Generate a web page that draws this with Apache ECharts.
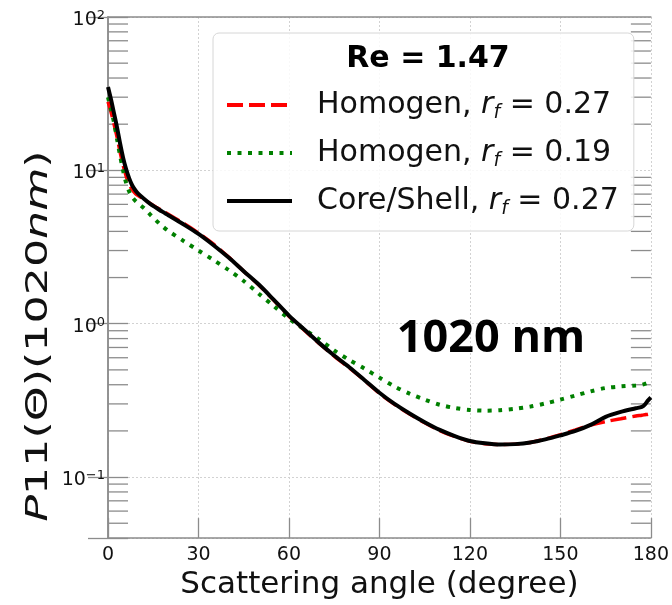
<!DOCTYPE html>
<html><head><meta charset="utf-8">
<script src="https://cdn.jsdelivr.net/npm/echarts@6/dist/echarts.min.js"></script>
<style>html,body{margin:0;padding:0;background:#fff}#c{width:672px;height:605px}</style>
</head><body><div id="c"></div>
<script>
// Scattering angle (degree)
const angles = [0,1,2,3,4,5,6,7,8,9,10,12,14,16,18,20,25,30,35,40,45,50,55,60,65,70,75,80,85,90,95,100,105,110,115,120,125,130,135,140,145,150,155,160,165,170,175,177,178,179,180];
// Homogen, r_f = 0.27 (red dashed)
const homogen027 = [28,24,20,16.5,13.2,10.8,9.2,8.1,7.5,7.1,6.85,6.45,6.08,5.75,5.45,5.17,4.52,3.9,3.3,2.72,2.2,1.79,1.42,1.12,0.91,0.745,0.615,0.515,0.428,0.352,0.298,0.258,0.226,0.201,0.184,0.171,0.165,0.163,0.164,0.168,0.177,0.189,0.203,0.218,0.23,0.24,0.25,0.253,0.255,0.257,0.26];
// Homogen, r_f = 0.19 (green dotted)
const homogen019 = [30,25,20.5,16,12.5,10,8.3,7.3,6.7,6.35,6.1,5.65,5.15,4.7,4.33,4.03,3.47,3.0,2.6,2.24,1.9,1.57,1.3,1.08,0.92,0.79,0.67,0.58,0.51,0.445,0.39,0.35,0.32,0.296,0.282,0.274,0.271,0.273,0.279,0.288,0.302,0.32,0.34,0.362,0.381,0.39,0.396,0.4,0.405,0.412,0.42];
// Core/Shell, r_f = 0.27 (black solid)
const coreShell027 = [35,29,23.5,19,15,12.1,10.2,8.9,8.0,7.45,7.05,6.5,6.04,5.7,5.38,5.1,4.45,3.85,3.25,2.7,2.2,1.8,1.43,1.13,0.92,0.75,0.62,0.52,0.43,0.355,0.3,0.26,0.228,0.203,0.185,0.172,0.166,0.163,0.164,0.168,0.176,0.187,0.2,0.219,0.247,0.266,0.281,0.287,0.297,0.315,0.33];
const seriesNames = ['Homogen, r_f = 0.27', 'Homogen, r_f = 0.19', 'Core/Shell, r_f = 0.27'];
const legendRich = [
  '{h|Homogen, }{i|r}{s|f}{a| = 0.27}',
  '{h|Homogen, }{i|r}{s|f}{a| = 0.19}',
  '{h|Core/Shell, }{i|r}{s|f}{a| = 0.27}'
];
const xTicks = [0, 30, 60, 90, 120, 150, 180];
const yMin = 0.04, yMax = 100;
const minorMultipliers = [2,3,4,5,6,7,8,9];
const legendTitle = 'Re = 1.47';
const panelText = '1020 nm';
const xTitle = 'Scattering angle (degree)';

const FONT = 'DejaVu Sans';
const axisGray = '#8c8c8c';
const chart = echarts.init(document.getElementById('c'), null, {renderer:'canvas'});
function pairs(ys){ return angles.map((a,i)=>[a, ys[i]]); }
function yLabel(v){
  const l = Math.log10(v); const e = Math.round(l);
  if (Math.abs(l - e) > 1e-6) return '';
  return '10{sup|' + (e < 0 ? '\u2212' + (-e) : e) + '}';
}
const yAxisCommon = {
  type:'log', logBase:10, min:yMin, max:yMax,
  axisLine:{show:true, lineStyle:{color:axisGray, width:1.5}},
  axisTick:{show:true, inside:true, length:20, lineStyle:{color:axisGray, width:1.3}}
};
chart.setOption({
  animation:false,
  grid:{left:108, top:17, right:13, bottom:61},
  xAxis:[{
    type:'value', min:xTicks[0], max:xTicks[xTicks.length-1], interval:xTicks[1]-xTicks[0],
    axisLine:{lineStyle:{color:axisGray, width:1.5}},
    axisTick:{inside:true, length:20, lineStyle:{color:axisGray, width:1.3}},
    splitLine:{show:true, lineStyle:{color:'#d2d2d2', type:[2,2], width:1}},
    axisLabel:{fontFamily:FONT, fontSize:19, color:'#111', margin:7},
    name:xTitle, nameLocation:'middle', nameGap:23,
    nameTextStyle:{fontFamily:FONT, fontSize:31, color:'#111', verticalAlign:'top'}
  },{
    type:'value', position:'top', min:0, max:180,
    axisLine:{show:true, lineStyle:{color:axisGray, width:1.5}},
    axisTick:{show:false}, axisLabel:{show:false}, splitLine:{show:false}
  }],
  yAxis:[Object.assign({}, yAxisCommon, {
    position:'left',
    splitLine:{show:true, lineStyle:{color:'#d2d2d2', type:[2,2], width:1}},
    axisLabel:{fontFamily:FONT, fontSize:19, color:'#111', margin:3, lineHeight:22, padding:[6,0,0,0], formatter:yLabel,
      rich:{sup:{fontFamily:FONT, fontSize:13, color:'#111', verticalAlign:'top', lineHeight:11}}}
  }), Object.assign({}, yAxisCommon, {
    position:'right', splitLine:{show:false}, axisLabel:{show:false}
  })],
  legend:{
    left:213, top:33, orient:'vertical', padding:[54,15,12,12], itemGap:12,
    itemWidth:65, itemHeight:14, backgroundColor:'rgba(255,255,255,0.85)',
    borderColor:'#d6d6d6', borderWidth:1, borderRadius:6, selectedMode:false,
    lineStyle:{width:4},
    itemStyle:{color:'rgba(0,0,0,0)', borderWidth:0, opacity:0},
    data:seriesNames,
    formatter:function(name){ return legendRich[seriesNames.indexOf(name)]; },
    textStyle:{fontFamily:FONT, fontSize:30, color:'#111', lineHeight:36,
      rich:{
        h:{fontFamily:FONT, fontSize:30, color:'#111', padding:[0,0,0,20]},
        a:{fontFamily:FONT, fontSize:30, color:'#111'},
        i:{fontFamily:FONT, fontSize:30, color:'#111', fontStyle:'italic'},
        s:{fontFamily:FONT, fontSize:19, color:'#111', fontStyle:'italic', verticalAlign:'bottom', lineHeight:18}
      }}
  },
  series:[
    {name:seriesNames[0], type:'line', data:pairs(homogen027), showSymbol:false, symbol:'none', smooth:0.3,
      lineStyle:{color:'#ff0000', width:3.5, type:[16,6]}, itemStyle:{color:'#ff0000'}},
    {name:seriesNames[1], type:'line', data:pairs(homogen019), showSymbol:false, symbol:'none', smooth:0.3,
      lineStyle:{color:'#008000', width:4, type:[4,6.5]}, itemStyle:{color:'#008000'}},
    {name:seriesNames[2], type:'line', data:pairs(coreShell027), showSymbol:false, symbol:'none', smooth:0.3,
      lineStyle:{color:'#000000', width:4, type:'solid'}, itemStyle:{color:'#000000'}}
  ]
});

const xl = chart.convertToPixel({xAxisIndex:0}, xTicks[0]);
const xr = chart.convertToPixel({xAxisIndex:0}, xTicks[xTicks.length-1]);
const graphics = [];
for (let k = -2; k <= 1; k++) {
  for (const m of minorMultipliers) {
    const v = m * Math.pow(10, k);
    if (v <= yMin + 1e-12 || v >= yMax) continue;
    const y = chart.convertToPixel({yAxisIndex:0}, v);
    graphics.push({type:'line', silent:true, z:3, shape:{x1:xl, y1:y, x2:xl+20, y2:y}, style:{stroke:axisGray, lineWidth:1.3}});
    graphics.push({type:'line', silent:true, z:3, shape:{x1:xr-20, y1:y, x2:xr, y2:y}, style:{stroke:axisGray, lineWidth:1.3}});
  }
}
graphics.push({type:'text', z:50, x:39, y:336, rotation:Math.PI/2, scaleX:1.43, scaleY:1,
  style:{text:'{i|P}11(\u0398)(1020{i|nm})', fontFamily:FONT, fontSize:31, fill:'#111', align:'center', verticalAlign:'middle',
    rich:{i:{fontFamily:FONT, fontSize:31, fontStyle:'italic', fill:'#111'}}}});
graphics.push({type:'text', z:50, x:428, y:59,
  style:{text:legendTitle, fontFamily:FONT, fontWeight:'bold', fontSize:30, fill:'#000', align:'center', verticalAlign:'middle'}});
graphics.push({type:'text', z:50, x:491, y:339,
  style:{text:panelText, fontFamily:'Open Sans', fontWeight:'bold', fontSize:45, fill:'#000', align:'center', verticalAlign:'middle'}});
chart.setOption({graphic:graphics});
</script></body></html>
